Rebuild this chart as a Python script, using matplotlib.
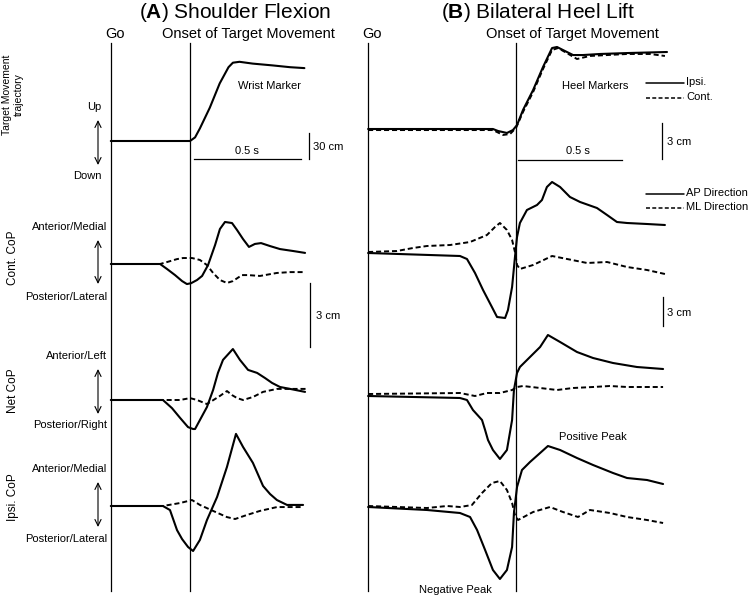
"""Schematic: anticipatory CoP traces for shoulder flexion (A) and bilateral heel lift (B)."""

import matplotlib
matplotlib.use("Agg")
import matplotlib.pyplot as plt

plt.rcParams["font.family"] = ["Liberation Sans", "DejaVu Sans"]
plt.rcParams["mathtext.fontset"] = "custom"
plt.rcParams["mathtext.bf"] = "Liberation Sans:bold"
plt.rcParams["mathtext.rm"] = "Liberation Sans"

W, H = 750, 597

# --------------------------------------------------------------------------- #
# Data: time (s, relative to onset of target movement) and displacement (cm)
# --------------------------------------------------------------------------- #
# (A) shoulder flexion
A_WRIST_T = [-0.36, 0.0, 0.023, 0.045, 0.09, 0.135, 0.175, 0.195, 0.225, 0.285, 0.375, 0.455, 0.52]
A_WRIST_CM = [0, 0, 4, 14, 37, 64, 82, 87, 88, 86, 84, 82, 81]

A_CONT_AP_T = [-0.36, -0.136, -0.105, -0.068, -0.036, -0.014, 0.005, 0.032, 0.055, 0.082, 0.114,
               0.136, 0.159, 0.191, 0.214, 0.241, 0.268, 0.295, 0.323, 0.364, 0.409, 0.468, 0.523]
A_CONT_AP_CM = [0, 0, -0.23, -0.52, -0.80, -0.94, -0.90, -0.75, -0.56, -0.05, 0.89,
                1.64, 1.97, 1.92, 1.59, 1.17, 0.80, 0.94, 0.98, 0.84, 0.70, 0.61, 0.52]
A_CONT_ML_T = [-0.36, -0.136, -0.105, -0.059, -0.032, 0.009, 0.045, 0.077, 0.105, 0.136, 0.168,
               0.195, 0.236, 0.264, 0.318, 0.395, 0.455, 0.523]
A_CONT_ML_CM = [0, 0, 0.09, 0.23, 0.28, 0.28, 0.19, -0.05, -0.42, -0.75, -0.89,
                -0.80, -0.52, -0.52, -0.56, -0.42, -0.38, -0.38]

A_NET_AP_T = [-0.36, -0.123, -0.082, -0.045, -0.009, 0.014, 0.023, 0.045, 0.077, 0.105, 0.127,
              0.150, 0.195, 0.227, 0.264, 0.305, 0.341, 0.373, 0.409, 0.455, 0.523]
A_NET_AP_CM = [0, 0, -0.38, -0.84, -1.27, -1.36, -1.36, -0.94, -0.33, 0.47, 1.27,
               1.88, 2.39, 1.88, 1.41, 1.27, 1.03, 0.80, 0.61, 0.52, 0.38]
A_NET_ML_T = [-0.36, -0.045, 0.0, 0.032, 0.077, 0.136, 0.168, 0.191, 0.214, 0.241, 0.286,
              0.332, 0.395, 0.455, 0.532]
A_NET_ML_CM = [0, 0, 0.09, 0, -0.19, 0.19, 0.42, 0.23, 0.09, 0, 0.14,
               0.38, 0.52, 0.52, 0.52]

A_IPSI_AP_T = [-0.36, -0.123, -0.091, -0.059, -0.036, -0.009, 0.014, 0.045, 0.077, 0.123, 0.168,
               0.209, 0.241, 0.286, 0.332, 0.364, 0.395, 0.441, 0.514]
A_IPSI_AP_CM = [0, 0, -0.19, -1.13, -1.55, -1.92, -2.11, -1.59, -0.66, 0.42, 1.83,
                3.38, 2.77, 2.02, 0.94, 0.56, 0.28, 0.05, 0.05]
A_IPSI_ML_T = [-0.36, -0.123, -0.045, 0.009, 0.045, 0.105, 0.168, 0.205, 0.259, 0.318, 0.395, 0.514]
A_IPSI_ML_CM = [0, 0, 0.14, 0.28, 0.05, -0.23, -0.52, -0.61, -0.42, -0.23, -0.05, -0.05]

# (B) bilateral heel lift
B_HEEL_IPSI_T = [-0.718, -0.112, -0.087, -0.044, -0.015, 0.005, 0.034, 0.083, 0.131, 0.175,
                 0.199, 0.228, 0.277, 0.325, 0.408, 0.539, 0.733]
B_HEEL_IPSI_CM = [0, 0, -0.17, -0.34, -0.09, 0.34, 1.63, 3.34, 5.31, 6.94,
                  7.03, 6.77, 6.34, 6.34, 6.43, 6.51, 6.60]
B_HEEL_CONT_T = [-0.718, -0.112, -0.063, -0.029, 0.0, 0.034, 0.083, 0.131, 0.175, 0.204,
                 0.238, 0.296, 0.359, 0.539, 0.650, 0.723]
B_HEEL_CONT_CM = [-0.09, -0.09, -0.51, -0.43, 0.09, 1.46, 3.17, 5.14, 6.77, 6.94,
                  6.60, 6.00, 6.26, 6.43, 6.43, 6.26]

B_CONT_AP_T = [-0.718, -0.272, -0.238, -0.199, -0.160, -0.117, -0.092, -0.053, -0.039, -0.019,
               -0.005, 0.005, 0.019, 0.053, 0.102, 0.126, 0.150, 0.175, 0.214, 0.262,
               0.311, 0.393, 0.442, 0.490, 0.539, 0.636, 0.723]
B_CONT_AP_CM = [0, -0.3, -0.6, -2.0, -3.7, -5.4, -6.4, -6.5, -5.7, -3.4,
                -0.4, 1.6, 3.0, 4.3, 4.8, 5.3, 6.6, 7.1, 6.6, 5.6,
                5.1, 4.5, 3.8, 3.1, 3.0, 2.9, 2.8]
B_CONT_ML_T = [-0.718, -0.578, -0.500, -0.432, -0.320, -0.223, -0.141, -0.102, -0.078, -0.044,
               -0.019, -0.005, 0.005, 0.019, 0.083, 0.175, 0.248, 0.345, 0.442, 0.539,
               0.636, 0.723]
B_CONT_ML_CM = [0.1, 0.2, 0.5, 0.7, 0.8, 1.1, 1.8, 2.6, 3.0, 2.3,
                1.3, 0.1, -1.2, -1.6, -1.2, -0.3, -0.6, -1.0, -0.9, -1.4,
                -1.7, -2.1]

B_NET_AP_T = [-0.718, -0.272, -0.238, -0.209, -0.165, -0.150, -0.136, -0.112, -0.078, -0.044,
              -0.019, -0.010, 0.005, 0.019, 0.068, 0.117, 0.155, 0.214, 0.296, 0.374,
              0.471, 0.587, 0.714]
B_NET_AP_CM = [0, -0.2, -0.4, -1.4, -2.4, -3.4, -4.4, -5.4, -6.3, -5.4,
               -2.4, 0.6, 2.3, 2.9, 3.9, 4.9, 6.1, 5.4, 4.4, 3.8,
               3.3, 2.9, 2.7]
B_NET_ML_T = [-0.718, -0.272, -0.199, -0.141, -0.078, -0.019, 0.005, 0.034, 0.117, 0.199,
              0.277, 0.374, 0.456, 0.539, 0.714]
B_NET_ML_CM = [0.2, 0.3, 0, 0.3, 0.3, 0.6, 0.9, 1.0, 0.8, 0.6,
               0.8, 0.9, 1.0, 0.9, 0.9]

B_IPSI_AP_T = [-0.718, -0.432, -0.272, -0.223, -0.189, -0.150, -0.112, -0.078, -0.044, -0.019,
               -0.010, 0.005, 0.029, 0.068, 0.117, 0.155, 0.214, 0.296, 0.374, 0.471,
               0.539, 0.636, 0.714]
B_IPSI_AP_CM = [0, -0.3, -0.6, -1.0, -2.3, -4.3, -6.3, -7.2, -6.3, -4.0,
                -0.6, 2.0, 3.7, 4.5, 5.4, 6.1, 5.7, 4.9, 4.2, 3.4,
                2.9, 2.7, 2.3]
B_IPSI_ML_T = [-0.718, -0.432, -0.335, -0.272, -0.214, -0.165, -0.117, -0.078, -0.044, -0.019,
               -0.005, 0.010, 0.083, 0.165, 0.228, 0.301, 0.359, 0.456, 0.539, 0.636, 0.714]
B_IPSI_ML_CM = [0.1, -0.1, 0.1, 0, 0.2, 1.4, 2.4, 2.6, 1.7, 0.4,
                -0.8, -1.3, -0.5, 0, -0.5, -1.0, -0.3, -0.6, -1.0, -1.3, -1.6]

TITLES = ["(" + r"$\mathbf{A}$" + ") Shoulder Flexion", "(" + r"$\mathbf{B}$" + ") Bilateral Heel Lift"]
ROW_NAMES = ["Target Movement\ntrajectory", "Cont. CoP", "Net CoP", "Ipsi. CoP"]
DIR_LABELS = [("Up", "Down"), ("Anterior/Medial", "Posterior/Lateral"),
              ("Anterior/Left", "Posterior/Right"), ("Anterior/Medial", "Posterior/Lateral")]

# --------------------------------------------------------------------------- #
# Layout (pixels from top-left of the 750x597 figure)
# --------------------------------------------------------------------------- #
A_GO, A_ON, A_PXS = 111, 190, 220.0
B_GO, B_ON, B_PXS = 368, 516, 206.0
SOLID = dict(color="black", lw=1.5, solid_joinstyle="round", solid_capstyle="round")
DASHED = dict(color="black", lw=1.4, linestyle=(0, (2.6, 1.5)))

fig = plt.figure(figsize=(W / 100, H / 100), dpi=100)


def trace_axes(x_on, px_per_s, y_base, px_per_cm):
    ax = fig.add_axes([0, 0, 1, 1])
    ax.set_xlim(-x_on / px_per_s, (W - x_on) / px_per_s)
    ax.set_ylim((y_base - H) / px_per_cm, y_base / px_per_cm)
    ax.axis("off")
    ax.patch.set_alpha(0)
    return ax


ov = fig.add_axes([0, 0, 1, 1])
ov.set_xlim(0, W)
ov.set_ylim(H, 0)
ov.axis("off")

# event lines
for x in (A_GO, A_ON, B_GO, B_ON):
    ov.plot([x, x], [43, 591], color="black", lw=0.9)

# panel A traces
ax = trace_axes(A_ON, A_PXS, 141, 0.9)
ax.plot(A_WRIST_T, A_WRIST_CM, **SOLID)
ax = trace_axes(A_ON, A_PXS, 264, 64 / 3)
ax.plot(A_CONT_ML_T, A_CONT_ML_CM, **DASHED)
ax.plot(A_CONT_AP_T, A_CONT_AP_CM, **SOLID)
ax = trace_axes(A_ON, A_PXS, 400, 64 / 3)
ax.plot(A_NET_ML_T, A_NET_ML_CM, **DASHED)
ax.plot(A_NET_AP_T, A_NET_AP_CM, **SOLID)
ax = trace_axes(A_ON, A_PXS, 506, 64 / 3)
ax.plot(A_IPSI_ML_T, A_IPSI_ML_CM, **DASHED)
ax.plot(A_IPSI_AP_T, A_IPSI_AP_CM, **SOLID)

# panel B traces
ax = trace_axes(B_ON, B_PXS, 129, 35 / 3)
ax.plot(B_HEEL_CONT_T, B_HEEL_CONT_CM, **DASHED)
ax.plot(B_HEEL_IPSI_T, B_HEEL_IPSI_CM, **SOLID)
ax = trace_axes(B_ON, B_PXS, 253, 10.0)
ax.plot(B_CONT_ML_T, B_CONT_ML_CM, **DASHED)
ax.plot(B_CONT_AP_T, B_CONT_AP_CM, **SOLID)
ax = trace_axes(B_ON, B_PXS, 396, 10.0)
ax.plot(B_NET_ML_T, B_NET_ML_CM, **DASHED)
ax.plot(B_NET_AP_T, B_NET_AP_CM, **SOLID)
ax = trace_axes(B_ON, B_PXS, 507, 10.0)
ax.plot(B_IPSI_ML_T, B_IPSI_ML_CM, **DASHED)
ax.plot(B_IPSI_AP_T, B_IPSI_AP_CM, **SOLID)

# titles and event names
ov.text(235, 12, TITLES[0], fontsize=15, ha="center", va="center")
ov.text(538, 12, TITLES[1], fontsize=15, ha="center", va="center")
for go, cx in ((A_GO, 248), (B_GO, 572)):
    ov.text(go + 4, 34, "Go", fontsize=10.5, ha="center", va="center")
    ov.text(cx, 34, "Onset of Target Movement", fontsize=10.5, ha="center", va="center")

# row names, direction arrows
row_y = [95, 258, 391, 497]
arrow_y = [(120, 165), (240, 284), (369, 414), (482, 527)]
dir_y = [(107, 176), (227, 297), (356, 425), (469, 539)]
for name, ry in zip(ROW_NAMES, row_y):
    ov.text(13, ry, name, fontsize=7.5 if "\n" in name else 8.5, rotation=90,
            ha="center", va="center", linespacing=1.15)
for (up, down), (y0, y1), (ty0, ty1) in zip(DIR_LABELS, arrow_y, dir_y):
    ov.annotate("", xy=(98, y0), xytext=(98, y1),
                arrowprops=dict(arrowstyle="<->,head_length=0.45,head_width=0.22",
                                lw=0.8, color="black", shrinkA=0, shrinkB=0))
    if up == "Up":
        ov.text(94, ty0, up, fontsize=8, ha="center", va="center")
        ov.text(87, ty1, down, fontsize=8, ha="center", va="center")
    else:
        ov.text(107, ty0, up, fontsize=8, ha="right", va="center")
        ov.text(107, ty1, down, fontsize=8, ha="right", va="center")

# scale bars
bar = dict(color="black", lw=0.9)
ov.plot([194, 301], [159, 159], **bar)
ov.text(247, 151, "0.5 s", fontsize=8, ha="center", va="center")
ov.plot([309, 309], [133, 159], **bar)
ov.text(313, 147, "30 cm", fontsize=8, ha="left", va="center")
ov.plot([310, 310], [283, 347], **bar)
ov.text(316, 316, "3 cm", fontsize=8, ha="left", va="center")

ov.plot([518, 622], [160, 160], **bar)
ov.text(578, 151, "0.5 s", fontsize=8, ha="center", va="center")
ov.plot([662, 662], [123, 159], **bar)
ov.text(667, 142, "3 cm", fontsize=8, ha="left", va="center")
ov.plot([663, 663], [297, 326], **bar)
ov.text(667, 313, "3 cm", fontsize=8, ha="left", va="center")

# annotations and legends
ov.text(270, 86, "Wrist Marker", fontsize=8, ha="center", va="center")
ov.text(595, 86, "Heel Markers", fontsize=8, ha="center", va="center")
ov.text(593, 437, "Positive Peak", fontsize=8, ha="center", va="center")
ov.text(455, 590, "Negative Peak", fontsize=8, ha="center", va="center")

for (y, style, label) in ((83, SOLID, "Ipsi."), (98, DASHED, "Cont."),
                          (194, SOLID, "AP Direction"), (208, DASHED, "ML Direction")):
    kw = dict(style)
    kw["lw"] = 1.1
    ov.plot([646, 684], [y, y], **kw)
    ov.text(686, y - 1, label, fontsize=8, ha="left", va="center")

fig.savefig("out.png", dpi=100)
